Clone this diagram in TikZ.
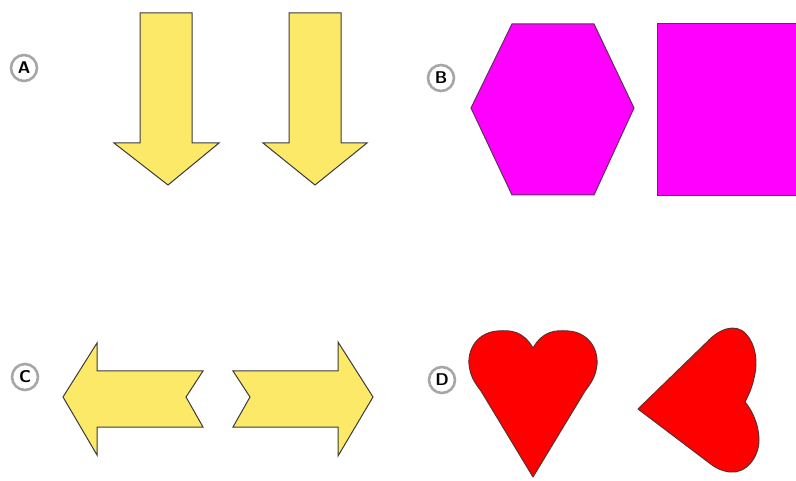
\documentclass[tikz,border=0pt]{standalone}
\usepackage{tikz}
\definecolor{arrowyellow}{HTML}{FDE968}
\definecolor{shapemagenta}{HTML}{FF00FF}
\definecolor{heartred}{HTML}{FF0000}
\definecolor{edgegray}{HTML}{3A3A3A}

\begin{document}
\begin{tikzpicture}[x=1pt,y=-1pt,line width=1pt,
  letterbadge/.style={circle,draw=gray!70,line width=2.6pt,fill=white,inner sep=0pt,minimum size=26pt,font=\fontsize{17}{19}\sffamily\bfseries},
  yellowshape/.style={fill=arrowyellow,draw=edgegray,line join=miter},
  pinkshape/.style={fill=shapemagenta,draw=edgegray!80!shapemagenta},
  redshape/.style={fill=heartred,draw=edgegray!80!heartred,line join=round}]
\path[use as bounding box] (0,0) rectangle (796,481);
\clip (0,0) rectangle (796,481);
\fill[white] (0,0) rectangle (796,481);
% A: two arrows pointing down
\node[letterbadge] (labA) at (24,68) {A};
\draw[yellowshape] (140,13) -- (192,13) -- (192,143) -- (219,143) -- (168,185) -- (114,143) -- (140,143) -- cycle;
\draw[yellowshape] (289,13) -- (341,13) -- (341,143) -- (367,143) -- (315,185) -- (263,143) -- (289,143) -- cycle;
% B: hexagon and square
\node[letterbadge] (labB) at (441,78) {B};
\draw[pinkshape] (512,24) -- (594,24) -- (634,108) -- (594,195) -- (512,195) -- (471,108) -- cycle;
\fill[shapemagenta] (657,24) rectangle (800,196);
\draw[edgegray!80!shapemagenta] (800,24) -- (657,24) -- (657,196) -- (800,196);
% C: arrows pointing left and right
\node[letterbadge] (labC) at (25,377) {C};
\draw[yellowshape] (63,397) -- (97,343) -- (97,371) -- (203,371) -- (186,397) -- (203,427) -- (97,427) -- (97,455) -- cycle;
\draw[yellowshape] (233,371) -- (338,371) -- (338,342) -- (373,397) -- (338,456) -- (338,427) -- (233,427) -- (250,397) -- cycle;
% D: upright heart and turned heart
\node[letterbadge] (labD) at (442,380) {D};
\draw[redshape] (533,348) .. controls (543,331) and (555,330) .. (568,331) .. controls (586,332) and (598,346) .. (597,364) .. controls (596,376) and (591,383) .. (585,391) -- (533,477) -- (481,391) .. controls (475,383) and (470,376) .. (469,364) .. controls (468,346) and (480,332) .. (498,331) .. controls (511,330) and (523,331) .. cycle;
\draw[redshape] (638,409) -- (707,342) .. controls (718,330) and (735,322) .. (746,334) .. controls (756,345) and (758,362) .. (754,378) .. controls (752,388) and (748,396) .. (745,402) .. controls (752,410) and (759,425) .. (759,440) .. controls (759,458) and (745,474) .. (730,472) .. controls (722,471) and (716,468) .. (712,465) -- cycle;
\end{tikzpicture}
\end{document}
